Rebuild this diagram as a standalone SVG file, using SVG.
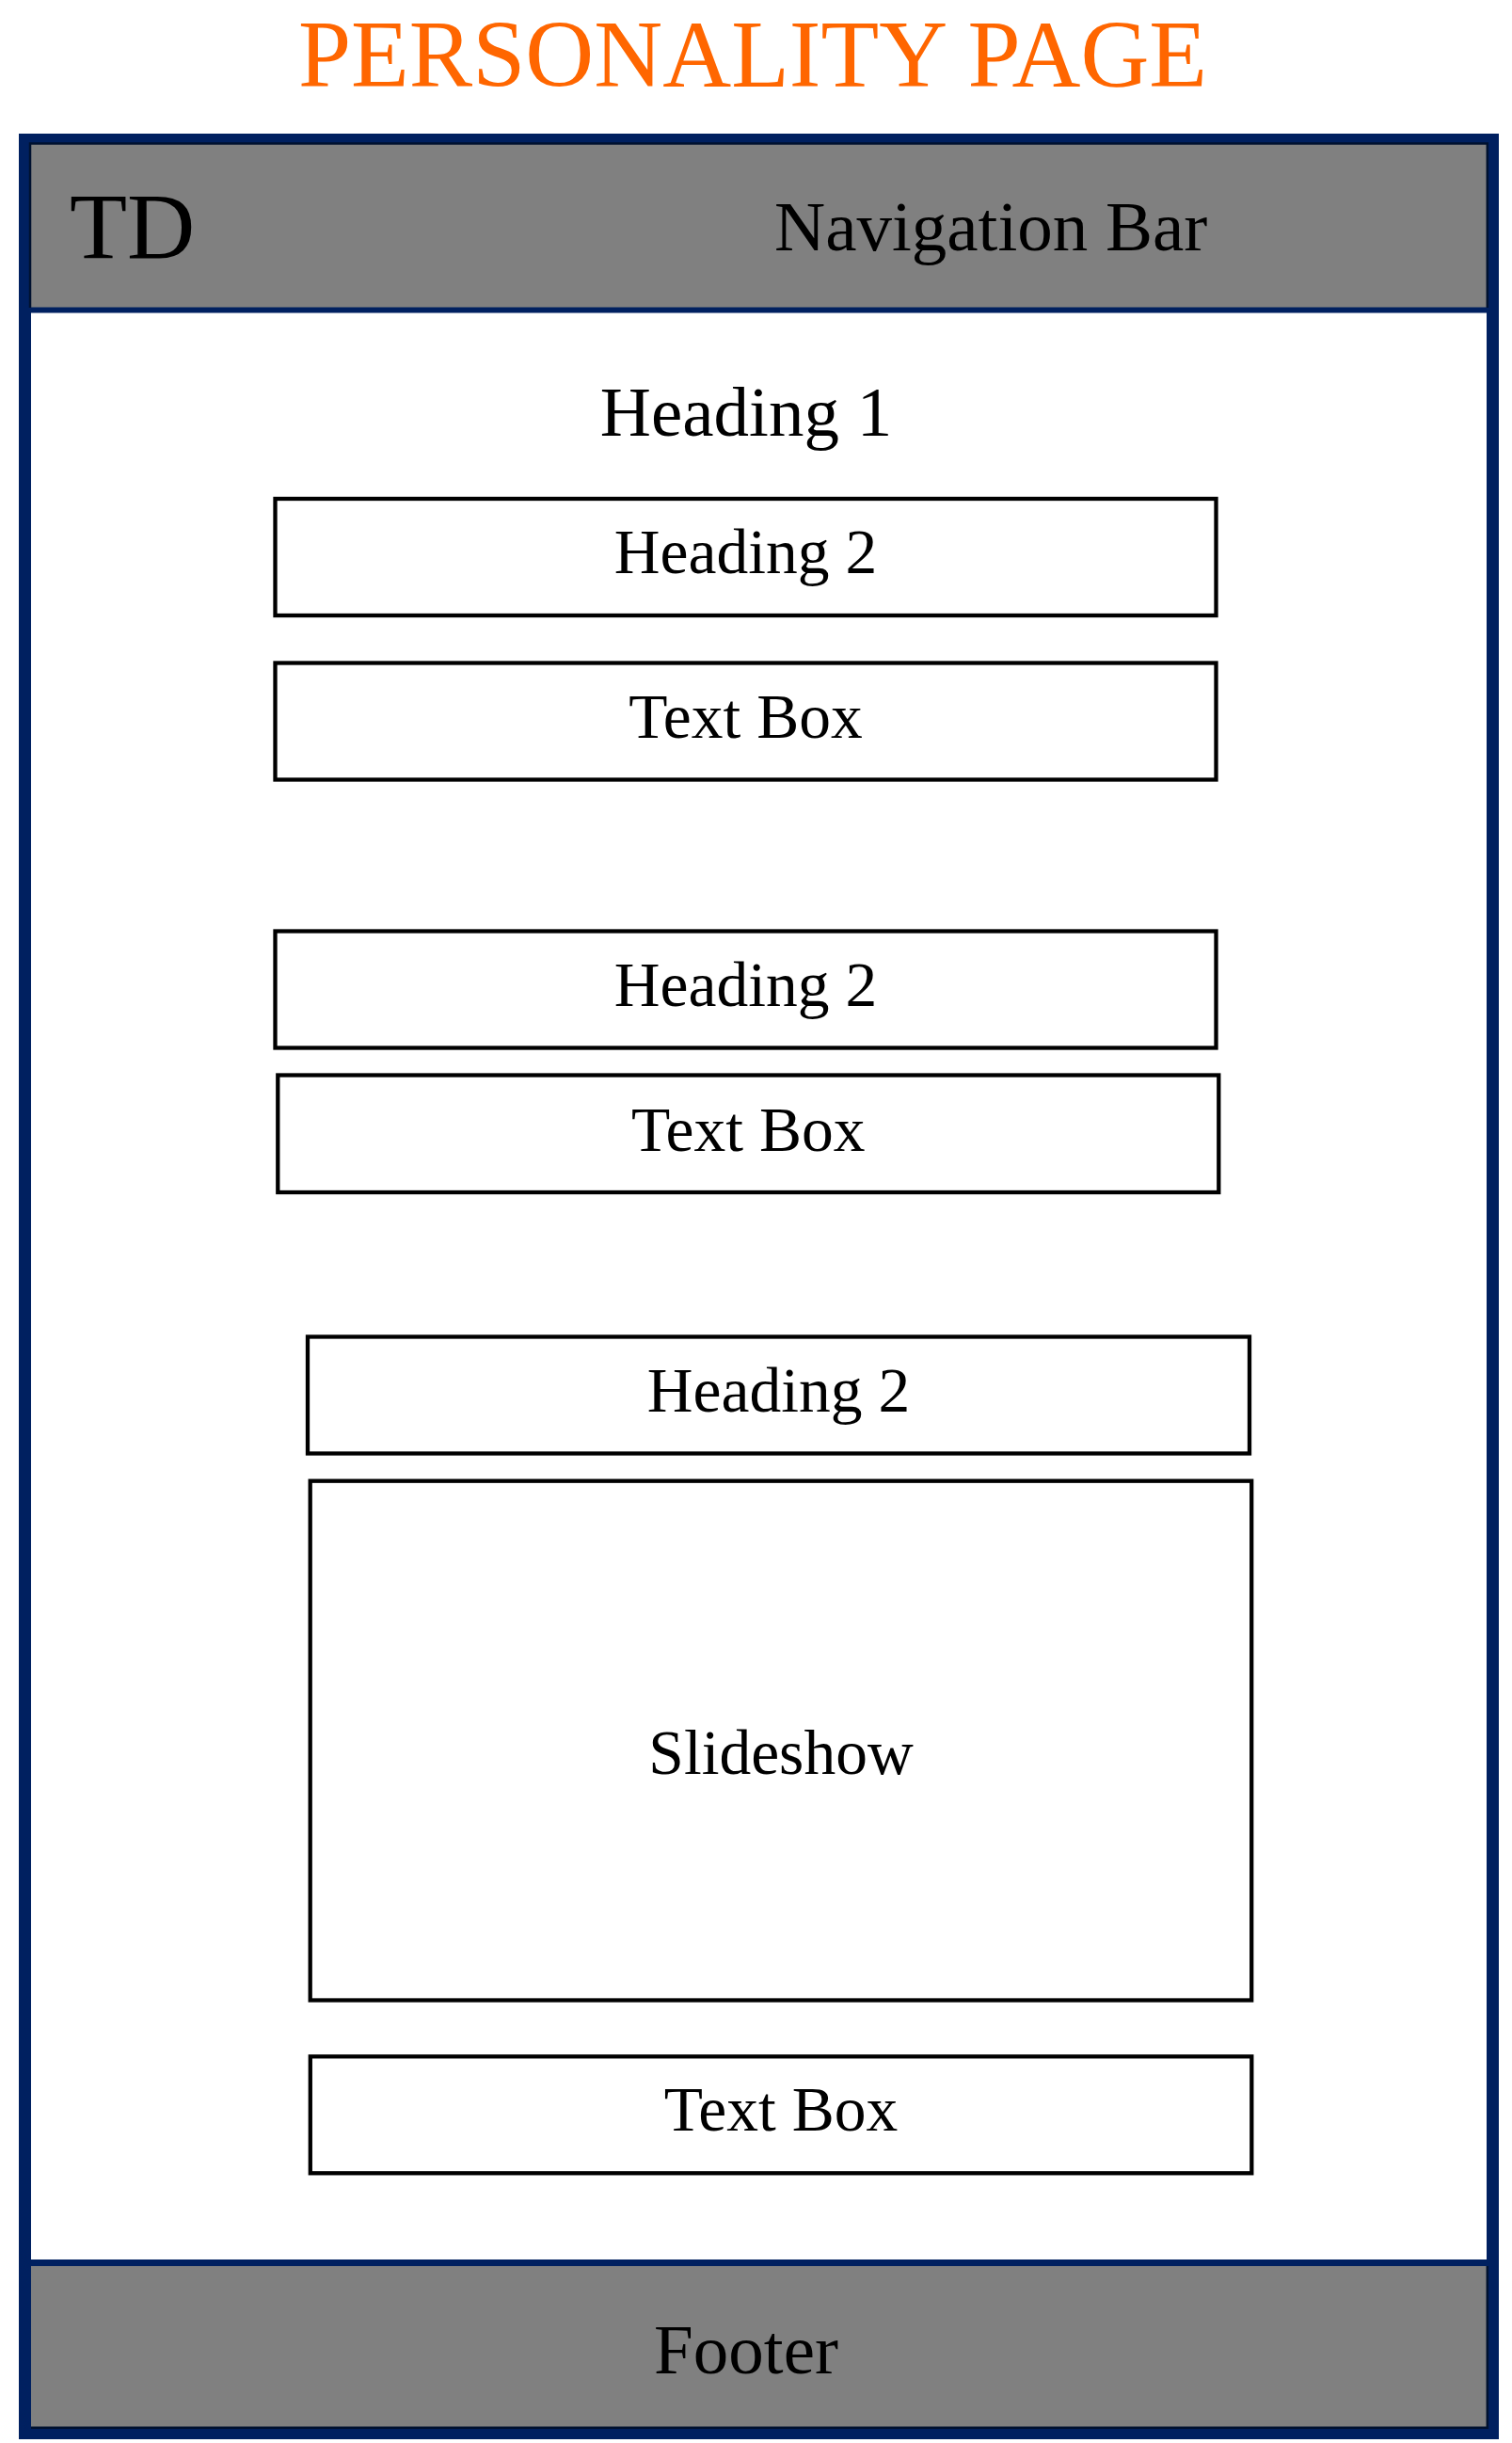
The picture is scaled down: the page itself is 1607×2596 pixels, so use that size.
<svg xmlns="http://www.w3.org/2000/svg" width="1607" height="2596" viewBox="0 0 1607 2596">
<style>
text{font-family:"Liberation Serif","Times New Roman",serif;fill:#000;text-anchor:middle}
.box{fill:#fff;stroke:#000;stroke-width:4.3}
.bar{fill:#808080}
.navy{fill:#002060}
.shadow{fill:none;stroke:#00112f;stroke-width:2.5}
.lbl{font-size:67.5px}
</style>
<rect width="1607" height="2596" fill="#fff"/>
<g id="title">
<text x="800" y="92" style="font-size:101px;fill:#ff6600">PERSONALITY PAGE</text>
</g>
<g id="frame">
<rect x="26.5" y="148.5" width="1560" height="2437" fill="#fff" stroke="#002060" stroke-width="13"/>
</g>
<g id="navbar">
<rect class="bar" x="33" y="153" width="1547" height="174"/>
<path class="shadow" d="M32,327 V152.5 H1580.8 V327"/>
<rect class="navy" x="33" y="326.5" width="1547" height="6"/>
<text x="74" y="274" style="font-size:100px;text-anchor:start">TD</text>
<text x="823" y="266" style="font-size:75px;text-anchor:start">Navigation Bar</text>
</g>
<g id="heading1">
<text x="793" y="463" style="font-size:75px">Heading 1</text>
</g>
<g id="heading2-a">
<rect class="box" x="292.5" y="530" width="1000" height="124"/>
<text class="lbl" x="792.5" y="609">Heading 2</text>
</g>
<g id="textbox-a">
<rect class="box" x="292.5" y="704.5" width="1000" height="124"/>
<text class="lbl" x="792.5" y="784">Text Box</text>
</g>
<g id="heading2-b">
<rect class="box" x="292.5" y="989.5" width="1000" height="124"/>
<text class="lbl" x="792.5" y="1069">Heading 2</text>
</g>
<g id="textbox-b">
<rect class="box" x="295.3" y="1142.5" width="1000" height="124.5"/>
<text class="lbl" x="795.3" y="1222.5">Text Box</text>
</g>
<g id="heading2-c">
<rect class="box" x="327" y="1420.5" width="1001" height="124"/>
<text class="lbl" x="827.5" y="1500">Heading 2</text>
</g>
<g id="slideshow">
<rect class="box" x="329.7" y="1573.7" width="1000.5" height="551.8"/>
<text class="lbl" x="830" y="1885">Slideshow</text>
</g>
<g id="textbox-c">
<rect class="box" x="329.8" y="2185.3" width="1000.5" height="124"/>
<text class="lbl" x="830" y="2264.3">Text Box</text>
</g>
<g id="footer">
<rect class="navy" x="33" y="2401" width="1547" height="7"/>
<rect class="bar" x="33" y="2408" width="1547" height="172"/>
<path class="shadow" d="M1580.8,2408 V2579.8 H33"/>
<text x="793" y="2522" style="font-size:75px">Footer</text>
</g>
<g id="connectors"></g>
</svg>
